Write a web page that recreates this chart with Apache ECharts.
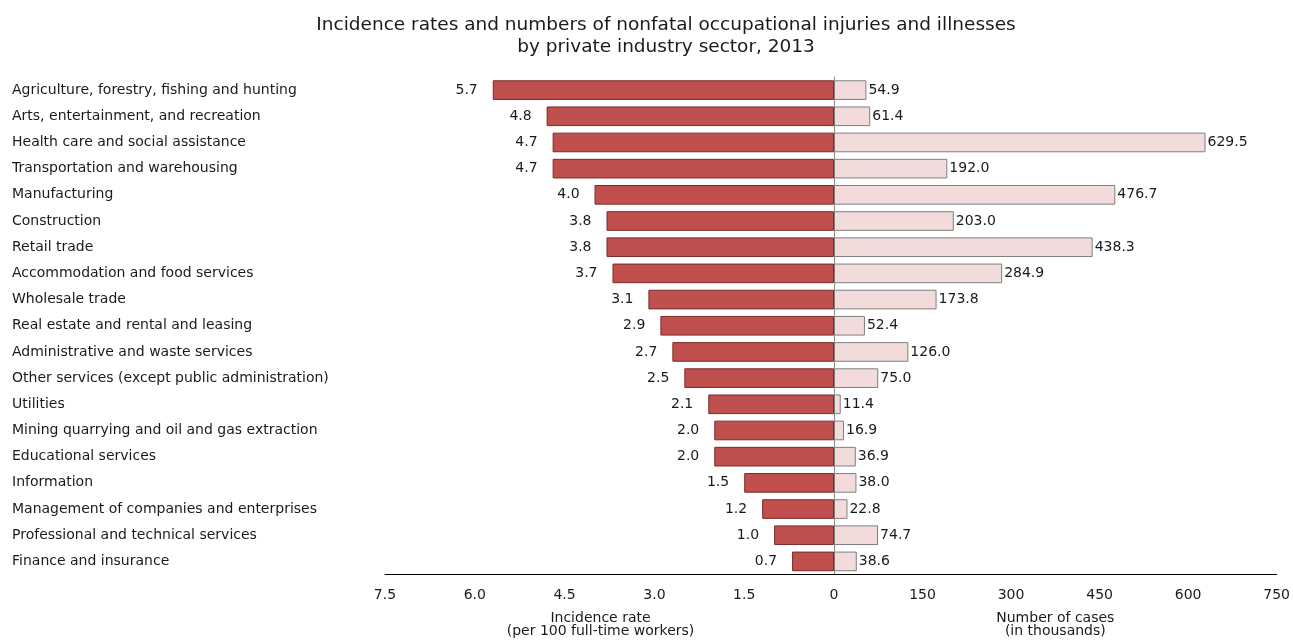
<!DOCTYPE html>
<html>
<head>
<meta charset="utf-8">
<script src="https://cdn.jsdelivr.net/npm/echarts@6/dist/echarts.min.js"></script>
<style>html,body{margin:0;padding:0;background:#fff}#c{width:1293px;height:643px}</style>
</head>
<body>
<div id="c"></div>
<script>
var categories = [
  "Agriculture, forestry, fishing and hunting",
  "Arts, entertainment, and recreation",
  "Health care and social assistance",
  "Transportation and warehousing",
  "Manufacturing",
  "Construction",
  "Retail trade",
  "Accommodation and food services",
  "Wholesale trade",
  "Real estate and rental and leasing",
  "Administrative and waste services",
  "Other services (except public administration)",
  "Utilities",
  "Mining quarrying and oil and gas extraction",
  "Educational services",
  "Information",
  "Management of companies and enterprises",
  "Professional and technical services",
  "Finance and insurance"
];
var incidenceRates = [5.7, 4.8, 4.7, 4.7, 4.0, 3.8, 3.8, 3.7, 3.1, 2.9, 2.7, 2.5, 2.1, 2.0, 2.0, 1.5, 1.2, 1.0, 0.7];
var numberOfCases = [54.9, 61.4, 629.5, 192.0, 476.7, 203.0, 438.3, 284.9, 173.8, 52.4, 126.0, 75.0, 11.4, 16.9, 36.9, 38.0, 22.8, 74.7, 38.6];
var rateTicks = {min: 0, max: 7.5, interval: 1.5};
var caseTicks = {min: 0, max: 750, interval: 150};

var FONT = "DejaVu Sans";
var FS = 14;
var TXT = "#1a1a1a";
var chart = echarts.init(document.getElementById('c'), null, {renderer: 'canvas'});
var gridTop = 77, gridBottom = 66;
chart.setOption({
  animation: false,
  textStyle: {fontFamily: FONT},
  title: {
    text: "Incidence rates and numbers of nonfatal occupational injuries and illnesses\nby private industry sector, 2013",
    left: 661, top: 9, textAlign: 'center',
    textStyle: {fontFamily: FONT, fontSize: 18.5, fontWeight: 'normal', color: TXT, lineHeight: 22}
  },
  grid: [
    {left: 385, width: 449, top: gridTop, bottom: gridBottom},
    {left: 834, width: 449, top: gridTop, bottom: gridBottom}
  ],
  xAxis: [
    {
      gridIndex: 0, type: 'value', inverse: true,
      min: rateTicks.min, max: rateTicks.max, interval: rateTicks.interval,
      splitLine: {show: false},
      axisLine: {show: true, onZero: false, lineStyle: {color: '#000', width: 1}},
      axisTick: {show: false},
      axisLabel: {fontFamily: FONT, fontSize: FS, color: TXT, margin: 14,
        formatter: function (v) { return v === 0 ? '0' : v.toFixed(1); }},
      name: "Incidence rate\n(per 100 full-time workers)",
      nameLocation: 'middle', nameGap: 37,
      nameTextStyle: {fontFamily: FONT, fontSize: FS, color: TXT, lineHeight: 13, padding: [0, 18, 0, 0]}
    },
    {
      gridIndex: 1, type: 'value',
      min: caseTicks.min, max: caseTicks.max, interval: caseTicks.interval,
      splitLine: {show: false},
      axisLine: {show: true, onZero: false, lineStyle: {color: '#000', width: 1}},
      axisTick: {show: false},
      axisLabel: {fontFamily: FONT, fontSize: FS, color: TXT, margin: 14,
        formatter: function (v) { return v === 0 ? '' : String(v); }},
      name: "Number of cases\n(in thousands)",
      nameLocation: 'middle', nameGap: 37,
      nameTextStyle: {fontFamily: FONT, fontSize: FS, color: TXT, lineHeight: 13}
    }
  ],
  yAxis: [
    {
      gridIndex: 0, type: 'category', data: categories, inverse: true,
      position: 'left',
      axisLine: {show: false}, axisTick: {show: false},
      axisLabel: {fontFamily: FONT, fontSize: FS, color: TXT, align: 'left', margin: 373,
        padding: [5, 0, 0, 0]}
    },
    {
      gridIndex: 1, type: 'category', data: categories, inverse: true,
      position: 'left',
      axisLine: {show: true, lineStyle: {color: '#8c8c8c', width: 1}},
      axisTick: {show: false},
      axisLabel: {show: false}
    }
  ],
  series: [
    {
      type: 'bar', xAxisIndex: 0, yAxisIndex: 0, data: incidenceRates,
      barCategoryGap: '25%',
      itemStyle: {color: '#c0504d', borderColor: '#7a2a28', borderWidth: 1},
      label: {show: true, position: 'left', distance: 15, fontFamily: FONT, fontSize: FS, color: TXT,
        padding: [5, 0, 0, 0],
        formatter: function (p) { return p.value.toFixed(1); }}
    },
    {
      type: 'bar', xAxisIndex: 1, yAxisIndex: 1, data: numberOfCases,
      barCategoryGap: '25%',
      itemStyle: {color: '#f2dcdb', borderColor: '#7f7f7f', borderWidth: 1},
      label: {show: true, position: 'right', distance: 2, fontFamily: FONT, fontSize: FS, color: TXT,
        padding: [5, 0, 0, 0],
        formatter: function (p) { return p.value.toFixed(1); }}
    }
  ]
});
</script>
</body>
</html>
